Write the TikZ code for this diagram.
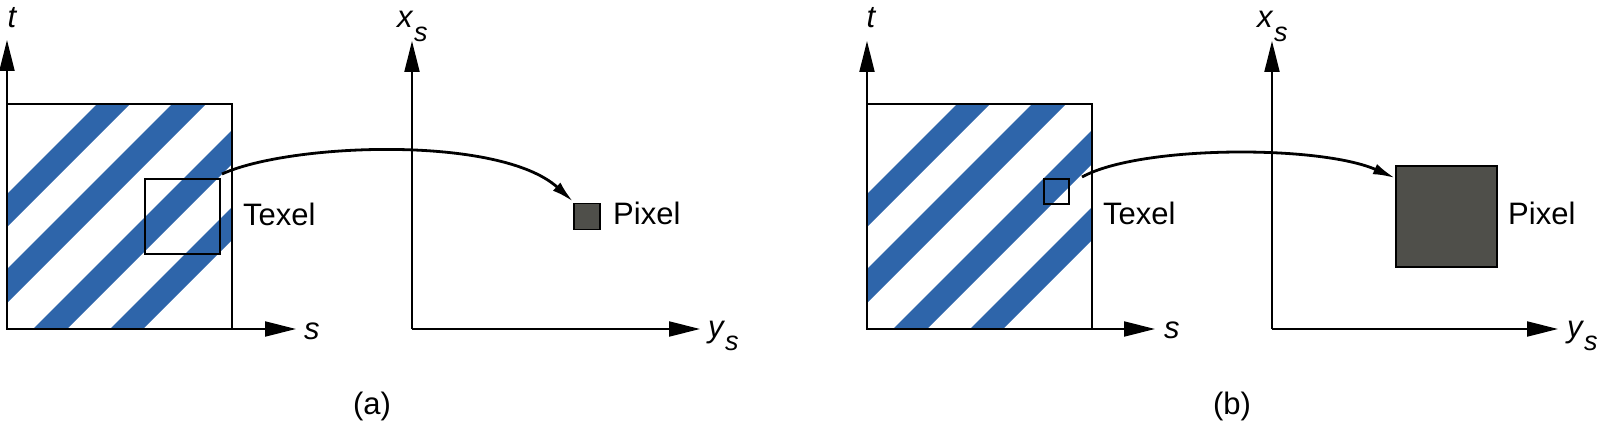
\documentclass[tikz,border=0pt]{standalone}
\usepackage{fontspec}
\setmainfont{Liberation Sans}
\usetikzlibrary{arrows.meta}
\definecolor{stripe}{HTML}{2E65AA}
\definecolor{pix}{HTML}{4F4F4A}
\begin{document}
\begin{tikzpicture}[x=1pt,y=-1pt,
  axis/.style={line width=2pt,-{Triangle[length=31pt,width=15pt]}},
  frame/.style={draw,line width=1.8pt,inner sep=0pt,outer sep=0pt},
  pixbox/.style={frame,fill=pix},
  lbl/.style={font=\fontsize{31}{36}\selectfont,inner sep=0pt},
  ilbl/.style={font=\fontsize{31}{36}\selectfont\itshape,inner sep=0pt},
  sublbl/.style={font=\fontsize{27}{32}\selectfont\itshape,inner sep=0pt},
  map/.style={line width=2.8pt,-{Latex[length=22pt,width=11pt]}}]
\useasboundingbox (0,0) rectangle (1597,422);

% ---------------- panel (a) ----------------
\begin{scope}
  \clip (7,104) rectangle (232,329);
  \foreach \a/\b in {-135/-102,-60/-26,26/60,103/136}
    \fill[stripe] ({7+\a},329) -- ({7+\b},329) -- ({232+\b},104) -- ({232+\a},104) -- cycle;
\end{scope}
\node[frame,minimum size=225pt] (texA) at (119.5,216.5) {};
\coordinate (oA) at (7,329);
\coordinate (tA) at (7,40);
\coordinate (sA) at (296,329);
\draw[axis] (oA) -- (tA);
\draw[axis] (oA) -- (sA);
\node[ilbl,anchor=base] (tlA) at (12,28) {t};
\node[ilbl,anchor=base west] (slA) at (304,339) {s};
\node[frame,minimum size=75pt] (texelA) at (182.5,216.5) {};
\node[lbl,anchor=base west] (texlA) at (243,225) {Texel};

\coordinate (o2A) at (412,329);
\coordinate (xA) at (412,41);
\coordinate (yA) at (700,329);
\draw[axis] (o2A) -- (xA);
\draw[axis] (o2A) -- (yA);
\node[ilbl,anchor=base west] (xlA) at (397,28) {x};
\node[sublbl,anchor=base west] (xsA) at (414,42) {s};
\node[ilbl,anchor=base west] (ylA) at (708,337) {y};
\node[sublbl,anchor=base west] (ysA) at (725,350) {s};
\node[pixbox,minimum size=26pt] (pixA) at (587,216.5) {};
\node[lbl,anchor=base west] (pixlA) at (613,224) {Pixel};
\draw[map] ([shift={(2,-5)}]texelA.north east) .. controls (290,143) and (500,135) .. ([shift={(-1,-2)}]pixA.north west);
\node[lbl,anchor=base] (capA) at (372,414) {(a)};

% ---------------- panel (b) ----------------
\begin{scope}
  \clip (867,104) rectangle (1092,329);
  \foreach \a/\b in {-135/-102,-60/-26,26/60,103/136}
    \fill[stripe] ({867+\a},329) -- ({867+\b},329) -- ({1092+\b},104) -- ({1092+\a},104) -- cycle;
\end{scope}
\node[frame,minimum size=225pt] (texB) at (979.5,216.5) {};
\coordinate (oB) at (867,329);
\coordinate (tB) at (867,41);
\coordinate (sB) at (1155,329);
\draw[axis] (oB) -- (tB);
\draw[axis] (oB) -- (sB);
\node[ilbl,anchor=base] (tlB) at (871,28) {t};
\node[ilbl,anchor=base west] (slB) at (1164,338) {s};
\node[frame,minimum size=25pt] (texelB) at (1056.5,191.5) {};
\node[lbl,anchor=base west] (texlB) at (1103,224) {Texel};

\coordinate (o2B) at (1272,329);
\coordinate (xB) at (1272,41);
\coordinate (yB) at (1558,329);
\draw[axis] (o2B) -- (xB);
\draw[axis] (o2B) -- (yB);
\node[ilbl,anchor=base west] (xlB) at (1257,28) {x};
\node[sublbl,anchor=base west] (xsB) at (1274,42) {s};
\node[ilbl,anchor=base west] (ylB) at (1567,337) {y};
\node[sublbl,anchor=base west] (ysB) at (1584,350) {s};
\node[pixbox,minimum size=101pt] (pixB) at (1446.5,216.5) {};
\node[lbl,anchor=base west] (pixlB) at (1508,224) {Pixel};
\coordinate (startB) at (1082,177);
\draw[map] (startB) .. controls (1140,145) and (1320,145) .. ([shift={(-1,12)}]pixB.north west);
\node[lbl,anchor=base] (capB) at (1232,414) {(b)};
\end{tikzpicture}
\end{document}
